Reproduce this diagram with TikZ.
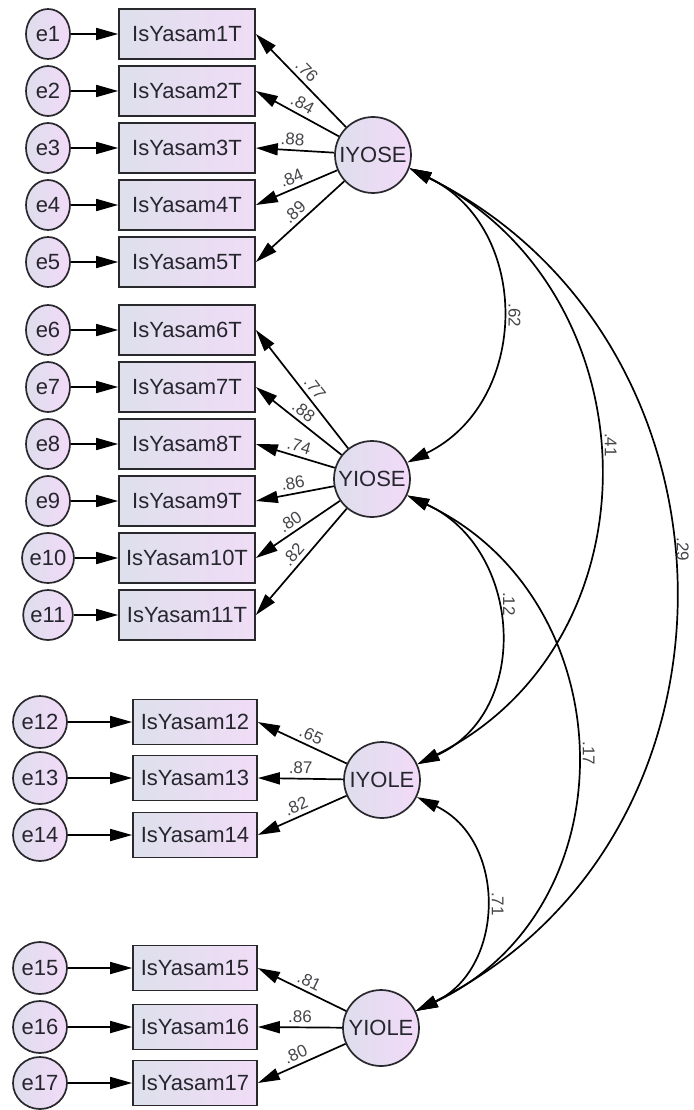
\documentclass[tikz,border=0pt]{standalone}
\usepackage{fontspec}
\setmainfont{Liberation Sans}
\usetikzlibrary{arrows.meta,shapes.geometric}
\definecolor{boxL}{RGB}{222,224,236}
\definecolor{boxR}{RGB}{240,220,246}
\definecolor{cirL}{RGB}{222,222,236}
\definecolor{cirR}{RGB}{242,218,248}
\definecolor{edgec}{RGB}{40,40,45}
\definecolor{txtc}{RGB}{38,38,46}
\definecolor{lblc}{RGB}{70,70,74}
\tikzset{
  obs/.style={draw=edgec, line width=1.7pt, rectangle, left color=boxL, right color=boxR,
    minimum width=136pt, minimum height=50pt, inner sep=0pt,
    font=\fontsize{22}{22}\selectfont, text=txtc},
  obsb/.style={obs, minimum width=124pt, minimum height=45pt},
  err/.style={draw=edgec, line width=1.7pt, ellipse, left color=cirL, right color=cirR,
    minimum width=44pt, minimum height=50pt, inner sep=0pt,
    font=\fontsize{22}{22}\selectfont, text=txtc},
  errb/.style={err, minimum width=54pt, minimum height=52pt},
  lat/.style={draw=edgec, line width=1.7pt, circle, left color=cirL, right color=cirR,
    minimum size=76pt, inner sep=0pt, font=\fontsize{22}{22}\selectfont, text=txtc},
  path1/.style={draw=black, line width=1.7pt, ->},
  cov/.style={draw=black, line width=1.7pt, <->},
  lbl/.style={font=\fontsize{17}{17}\selectfont, text=lblc, sloped, above, inner sep=4pt},
  covlbl/.style={font=\fontsize{17}{17}\selectfont, text=lblc, rotate=-90, anchor=south, inner sep=7pt}
}
\begin{document}
\begin{tikzpicture}[x=1pt,y=1pt,>={Triangle[length=22pt,width=12pt]}]
\useasboundingbox (0,0) rectangle (693,-1110);
\fill[white] (0,0) rectangle (693,-1110);

% latent variables
\node[lat] (IYOSE) at (373,-155) {IYOSE};
\node[lat] (YIOSE) at (372,-479) {YIOSE};
\node[lat] (IYOLE) at (382,-780) {IYOLE};
\node[lat] (YIOLE) at (381,-1028) {YIOLE};

% indicators and errors, groups 1-2
\foreach \i/\y in {1/34,2/91,3/148,4/205,5/262,6/330,7/387,8/444,9/501,10/558,11/615}{
  \node[obs] (b\i) at (187,-\y) {IsYasam\i T};
  \node[err] (e\i) at (48,-\y) {e\i};
  \draw[path1] (e\i) -- (b\i.west);
}
% groups 3-4
\foreach \i/\y in {12/722,13/778,14/835,15/968,16/1027,17/1083}{
  \node[obsb] (b\i) at (195,-\y) {IsYasam\i};
  \node[errb] (e\i) at (40,-\y) {e\i};
  \draw[path1] (e\i) -- (b\i.west);
}

% loadings
\foreach \l/\i/\v/\p in {IYOSE/1/.76/0.52, IYOSE/2/.84/0.5, IYOSE/3/.88/0.54, IYOSE/4/.84/0.51, IYOSE/5/.89/0.48,
  YIOSE/6/.77/0.45, YIOSE/7/.88/0.52, YIOSE/8/.74/0.49, YIOSE/9/.86/0.5, YIOSE/10/.80/0.52, YIOSE/11/.82/0.5,
  IYOLE/12/.65/0.45, IYOLE/13/.87/0.5, IYOLE/14/.82/0.52,
  YIOLE/15/.81/0.47, YIOLE/16/.86/0.5, YIOLE/17/.80/0.52}{
  \draw[path1] (\l) -- node[lbl, pos=\p] (w\i) {\v} (b\i.east);
}

% covariances
\draw[cov] (IYOSE.-20) .. controls +(123,-60) and +(123,60) .. node[covlbl, pos=0.5] (c1) {.62} (YIOSE.25);
\draw[cov] (IYOSE.-20) .. controls +(246,-123) and +(246,123) .. node[covlbl, pos=0.47] (c2) {.41} (IYOLE.24);
\draw[cov] (IYOSE.-20) .. controls +(347,-173) and +(347,173) .. node[covlbl, pos=0.46, inner sep=5pt] (c3) {.29} (YIOLE.26);
\draw[cov] (YIOSE.-25) .. controls +(115,-53) and +(115,53) .. node[covlbl, pos=0.42] (c4) {.12} (IYOLE.24);
\draw[cov] (YIOSE.-25) .. controls +(218,-103) and +(218,103) .. node[covlbl, pos=0.5] (c5) {.17} (YIOLE.26);
\draw[cov] (IYOLE.-26) .. controls +(90,-43) and +(90,43) .. node[covlbl, pos=0.5] (c6) {.71} (YIOLE.26);
\end{tikzpicture}
\end{document}
